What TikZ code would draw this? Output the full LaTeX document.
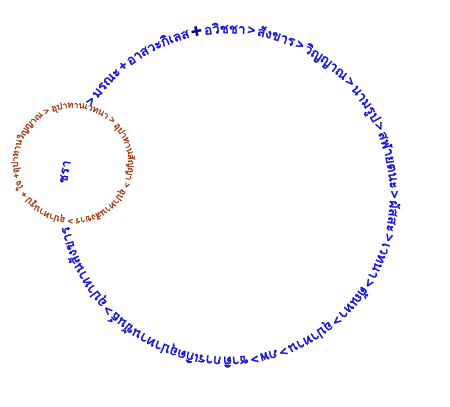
\documentclass[tikz,border=0pt]{standalone}
\usepackage{fontspec}
\newfontfamily\thaifont[Script=Thai, FakeBold=2.6]{Loma}
\newfontfamily\thaithin[Script=Thai, FakeBold=2]{Loma}
\newfontfamily\symfont{DejaVu Sans}
\usetikzlibrary{decorations.text}
\definecolor{cycleblue}{RGB}{25,25,215}
\definecolor{crossnavy}{RGB}{10,10,120}
\definecolor{khandhabrown}{RGB}{165,65,25}
\newcommand{\bigring}{\thaifont\fontsize{13.5}{14}\selectfont\spaceskip=2pt\color{cycleblue}}
\newcommand{\smallring}{\thaithin\fontsize{9.2}{10}\selectfont\spaceskip=1.5pt\color{khandhabrown}}
\begin{document}
\begin{tikzpicture}[x=1pt,y=1pt,
  ringtext/.style={decorate, decoration={text along path, raise=#1,
    text align={fit to path stretching spaces}}},
  ]
\useasboundingbox (0,0) rectangle (450,407);
% big cycle
\path[ringtext=-4.3pt, decoration={text={|\bigring|{>} {มร}{ณะ} {+} {อา}{สวะ}{กิ}{เลส} {\symfont\color{crossnavy}✚} {อ}{วิช}{ชา} {>} {สัง}{ขาร} {>} {วิญ}{ญาณ} {>} {นาม}{รูป} {>} {สฬา}{ยต}{นะ} {>} {ผัส}{สะ} {>} {เว}{ท}{นา} {>} {ตัณ}{หา} {>} {อุ}{ปา}{ทาน} {>} {ภพ} {>} {ชา}{ติ} {การ}{เกิด}{อุ}{ปา}{ทาน}{ขันธ์} {>} {อุ}{ปา}{ทาน}{สัง}{ขาร} {>}}}]
  (228,212) ++(147:166) arc[start angle=147, end angle=-168.5, radius=166];
% small cycle
\path[ringtext=-3pt, decoration={text={|\smallring|{อุ}{ปา}{ทาน}{วิญ}{ญาณ} {>} {อุ}{ปา}{ทาน}{เว}{ท}{นา} {>} {อุ}{ปา}{ทาน}{สัญ}{ญา} {>} {อุ}{ปา}{ทาน}{สัง}{ขาร} {>} {อุ}{ปา}{ทาน}{รูป} {+} {ใจ} {+}}}]
  (73,244) ++(190:58) arc[start angle=190, end angle=-170, radius=58];
\node[rotate=80, font=\thaifont\fontsize{13}{14}\selectfont, text=cycleblue] (chara) at (65,235) {ชรา};
\end{tikzpicture}
\end{document}
